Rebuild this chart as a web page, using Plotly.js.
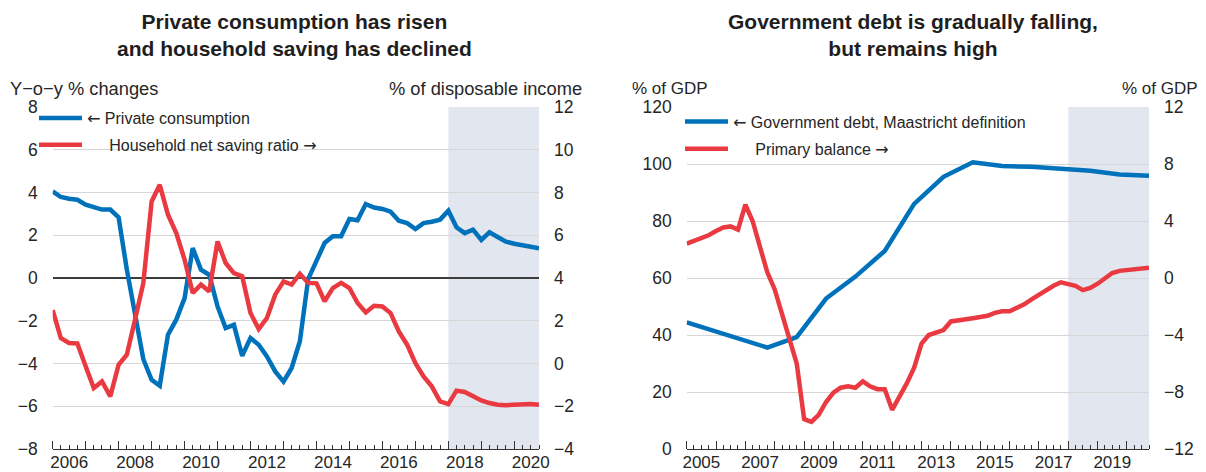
<!DOCTYPE html>
<html><head><meta charset="utf-8">
<script src="https://cdn.plot.ly/plotly-3.0.1.min.js"></script>
<style>html,body{margin:0;padding:0;background:#fff}#chart{width:1206px;height:472px}</style>
</head><body><div id="chart"></div>
<script>
// ---------- DATA ----------
// Left panel: quarterly, 2006Q1 .. 2020Q4
const leftStartYear = 2006, leftQuarterCount = 60;
const privateConsumption = [ // y-o-y % changes (left axis)
  4.05, 3.79, 3.71, 3.66, 3.43, 3.32, 3.20, 3.20,
  2.84, 0.40, -1.80, -3.80, -4.76, -5.04, -2.65, -1.95,
  -0.94, 1.40, 0.39, 0.15, -1.33, -2.34, -2.19, -3.64,
  -2.81, -3.12, -3.67, -4.37, -4.85, -4.21, -2.96, -0.05,
  0.80, 1.64, 1.95, 1.95, 2.76, 2.70, 3.46, 3.30,
  3.23, 3.10, 2.68, 2.57, 2.29, 2.57, 2.63, 2.73,
  3.15, 2.37, 2.10, 2.26, 1.78, 2.14, 1.92, 1.70,
  1.60, 1.52, 1.46, 1.39
];
const householdSaving = [ // % of disposable income (right axis)
  2.50, 1.19, 0.96, 0.94, -0.13, -1.15, -0.84, -1.54,
  -0.06, 0.41, 2.05, 3.77, 7.58, 8.36, 6.96, 6.10,
  4.86, 3.30, 3.69, 3.37, 5.71, 4.70, 4.23, 4.08,
  2.36, 1.61, 2.13, 3.22, 3.84, 3.69, 4.20, 3.77,
  3.75, 2.91, 3.53, 3.77, 3.53, 2.83, 2.39, 2.70,
  2.67, 2.36, 1.50, 0.88, 0.02, -0.60, -1.07, -1.77,
  -1.90, -1.27, -1.33, -1.54, -1.73, -1.85, -1.93, -1.95,
  -1.93, -1.90, -1.90, -1.93
];
// Right panel
const debtPeriods = ['2005Q1','2005Q4','2006Q4','2007Q4','2008Q4','2009Q4','2010Q4','2011Q4',
  '2012Q4','2013Q4','2014Q4','2015Q4','2016Q4','2017Q4','2018Q4','2019Q4','2020Q4'];
const govDebt = [44.4, 41.9, 38.7, 35.6, 39.3, 52.8, 60.5, 69.5,
  86.0, 95.5, 100.6, 99.3, 99.0, 98.2, 97.6, 96.3, 95.9]; // % of GDP (left axis)
const rightStartYear = 2005, rightQuarterCount = 64;
const primaryBalance = [ // % of GDP (right axis), 2005Q1 .. 2020Q4
  2.41, 2.60, 2.80, 3.00, 3.30, 3.55, 3.62, 3.39,
  5.14, 4.00, 2.20, 0.40, -0.80, -2.50, -4.20, -6.00,
  -9.90, -10.10, -9.60, -8.70, -8.05, -7.70, -7.60, -7.70,
  -7.25, -7.60, -7.80, -7.80, -9.25, -8.40, -7.40, -6.30,
  -4.60, -4.00, -3.80, -3.65, -3.05, -3.00, -2.92, -2.82,
  -2.74, -2.65, -2.45, -2.34, -2.34, -2.10, -1.85, -1.50,
  -1.15, -0.85, -0.55, -0.30, -0.40, -0.55, -0.85, -0.70,
  -0.40, -0.05, 0.35, 0.50, 0.55, 0.60, 0.65, 0.72
];
const projectionStart = '2018Q1'; // shaded projection period
const lastPeriod = '2020Q4';
const leftTitle = 'Private consumption has risen<br>and household saving has declined';
const rightTitle = 'Government debt is gradually falling,<br>but remains high';

// ---------- helpers ----------
function quarterLabels(startYear, n) {
  const out = [];
  for (let i = 0; i < n; i++) out.push((startYear + Math.floor(i / 4)) + 'Q' + (i % 4 + 1));
  return out;
}
function qToDate(q) {
  const m = ['01', '04', '07', '10'][+q.slice(5) - 1];
  return q.slice(0, 4) + '-' + m + '-01';
}
const leftQ = quarterLabels(leftStartYear, leftQuarterCount).map(qToDate);
const rightQ = quarterLabels(rightStartYear, rightQuarterCount).map(qToDate);
const debtX = debtPeriods.map(qToDate);

const W = 1206, H = 472;
const BLUE = '#0072bb', RED = '#ea3a41', TXT = '#262626', GRID = '#d6d6d6';
const FONT = 'Liberation Sans, Arial, sans-serif';
const px = p => p / W;
const py = p => 1 - (p - 107) / 342;
const LARR = '<span style="font-family:DejaVu Sans">\u2190</span>';
const RARR = '<span style="font-family:DejaVu Sans">\u2192</span>';

const traces = [
  {x: leftQ, y: privateConsumption, xaxis: 'x', yaxis: 'y', type: 'scatter', mode: 'lines',
   name: LARR + ' Private consumption', line: {color: BLUE, width: 4.5}, legend: 'legend', legendgroup: 'a'},
  {x: leftQ, y: householdSaving, xaxis: 'x', yaxis: 'y2', type: 'scatter', mode: 'lines',
   name: '\u00a0\u00a0\u00a0\u00a0 Household net saving ratio ' + RARR, line: {color: RED, width: 4.5}, legend: 'legend', legendgroup: 'b'},
  {x: debtX, y: govDebt, xaxis: 'x3', yaxis: 'y3', type: 'scatter', mode: 'lines',
   name: LARR + ' Government debt, Maastricht definition', line: {color: BLUE, width: 4.5}, legend: 'legend2', legendgroup: 'c'},
  {x: rightQ, y: primaryBalance, xaxis: 'x3', yaxis: 'y4', type: 'scatter', mode: 'lines',
   name: '\u00a0\u00a0\u00a0\u00a0 Primary balance ' + RARR, line: {color: RED, width: 4.5}, legend: 'legend2', legendgroup: 'd'}
];

const tickFont = {family: FONT, size: 17.5, color: TXT};
function xAxis(domain, startYear, anchor) {
  return {type: 'date', domain, anchor, range: [startYear + '-01-01', qToDate(lastPeriod)],
    tickmode: 'linear', tick0: startYear + '-01-01', dtick: 'M12', tickformat: '%Y',
    ticklabelmode: 'period', ticklabelstep: 2, tickangle: 0, ticklabelstandoff: -2,
    ticks: 'inside', ticklen: 8, tickwidth: 1,
    tickcolor: '#333', showline: true, linecolor: '#333', linewidth: 1, showgrid: false,
    zeroline: false, tickfont: {family: FONT, size: 17, color: TXT}, fixedrange: true, automargin: false,
    minor: {tick0: startYear + '-01-01', dtick: 'M3', ticks: 'inside', ticklen: 4, tickwidth: 1,
      tickcolor: '#333', showgrid: false}};
}
function yAxis(range, dtick, opts) {
  return Object.assign({range, tickmode: 'linear', tick0: range[0], dtick, ticks: '',
    showgrid: false, zeroline: false, showline: false, tickfont: tickFont,
    fixedrange: true, automargin: false, ticklabelstandoff: 14}, opts);
}

const layout = {
  width: W, height: H, margin: {l: 0, r: 0, t: 107, b: 23},
  paper_bgcolor: '#fff', plot_bgcolor: 'rgba(0,0,0,0)',
  font: {family: FONT, color: TXT},
  xaxis: xAxis([px(52.7), px(539)], leftStartYear, 'y'),
  yaxis: yAxis([-8, 8], 2, {anchor: 'x', showgrid: true, gridcolor: GRID, gridwidth: 1,
    zeroline: true, zerolinecolor: '#3c3c3c', zerolinewidth: 2.4}),
  yaxis2: yAxis([-4, 12], 2, {anchor: 'x', overlaying: 'y', side: 'right'}),
  xaxis3: xAxis([px(686.7), px(1149)], rightStartYear, 'y3'),
  yaxis3: yAxis([0, 120], 20, {anchor: 'x3', showgrid: true, gridcolor: GRID, gridwidth: 1}),
  yaxis4: yAxis([-12, 12], 4, {anchor: 'x3', overlaying: 'y3', side: 'right'}),
  showlegend: true,
  legend: {x: px(34), y: py(101), xanchor: 'left', yanchor: 'top', bgcolor: 'rgba(0,0,0,0)',
    font: {family: FONT, size: 16, color: TXT}, itemwidth: 43, tracegroupgap: 3},
  legend2: {x: px(680), y: py(104.5), xanchor: 'left', yanchor: 'top', bgcolor: 'rgba(0,0,0,0)',
    font: {family: FONT, size: 16, color: TXT}, itemwidth: 43, tracegroupgap: 3.6},
  shapes: [
    {type: 'rect', xref: 'x', yref: 'y domain', x0: qToDate(projectionStart), x1: qToDate(lastPeriod), y0: 0, y1: 1,
     fillcolor: '#e2e6ef', line: {width: 0}, layer: 'below'},
    {type: 'rect', xref: 'x3', yref: 'y3 domain', x0: qToDate(projectionStart), x1: qToDate(lastPeriod), y0: 0, y1: 1,
     fillcolor: '#e2e6ef', line: {width: 0}, layer: 'below'}
  ],
  annotations: [
    {text: '<b>' + leftTitle + '</b>', xref: 'paper', yref: 'paper', x: px(294), y: py(35),
     xanchor: 'center', yanchor: 'middle', showarrow: false, font: {family: FONT, size: 21, color: '#1e1e1e'}},
    {text: '<b>' + rightTitle + '</b>', xref: 'paper', yref: 'paper', x: px(913), y: py(35),
     xanchor: 'center', yanchor: 'middle', showarrow: false, font: {family: FONT, size: 21, color: '#1e1e1e'}},
    {text: 'Y\u2212o\u2212y % changes', xref: 'paper', yref: 'paper', x: px(8), y: py(88),
     xanchor: 'left', yanchor: 'middle', showarrow: false, font: {family: FONT, size: 18.3, color: TXT}},
    {text: '% of disposable income', xref: 'paper', yref: 'paper', x: px(584), y: py(88),
     xanchor: 'right', yanchor: 'middle', showarrow: false, font: {family: FONT, size: 18.3, color: TXT}},
    {text: '% of GDP', xref: 'paper', yref: 'paper', x: px(630), y: py(88),
     xanchor: 'left', yanchor: 'middle', showarrow: false, font: {family: FONT, size: 17, color: TXT}},
    {text: '% of GDP', xref: 'paper', yref: 'paper', x: px(1200), y: py(88),
     xanchor: 'right', yanchor: 'middle', showarrow: false, font: {family: FONT, size: 17, color: TXT}}
  ]
};

Plotly.newPlot('chart', traces, layout, {staticPlot: true, displayModeBar: false});
</script></body></html>
